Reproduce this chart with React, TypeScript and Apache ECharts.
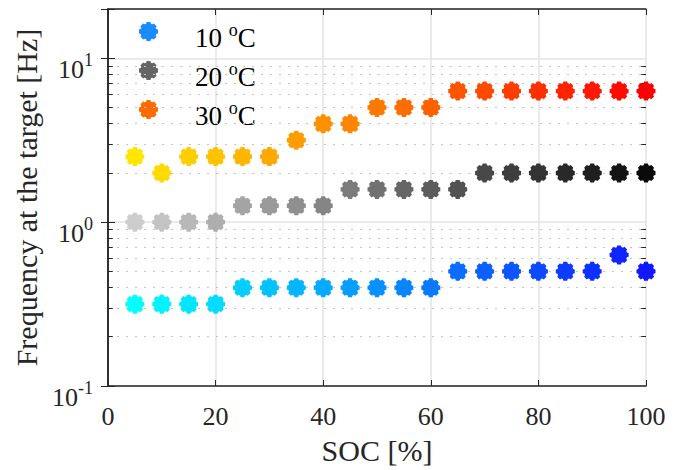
import React, { useEffect, useRef } from 'react';
import * as echarts from 'echarts';

// ---- data ----
const soc = [5, 10, 15, 20, 25, 30, 35, 40, 45, 50, 55, 60, 65, 70, 75, 80, 85, 90, 95, 100];
const freq10C = [0.316, 0.316, 0.316, 0.316, 0.398, 0.398, 0.398, 0.398, 0.398, 0.398, 0.398, 0.398, 0.501, 0.501, 0.501, 0.501, 0.501, 0.501, 0.631, 0.501];
const freq20C = [1.0, 1.0, 1.0, 1.0, 1.259, 1.259, 1.259, 1.259, 1.585, 1.585, 1.585, 1.585, 1.585, 1.995, 1.995, 1.995, 1.995, 1.995, 1.995, 1.995];
const freq30C = [2.512, 1.995, 2.512, 2.512, 2.512, 2.512, 3.162, 3.981, 3.981, 5.012, 5.012, 5.012, 6.31, 6.31, 6.31, 6.31, 6.31, 6.31, 6.31, 6.31];
const seriesNames = ['10 °C', '20 °C', '30 °C'];
const minorValues = [0.2, 0.3, 0.4, 0.5, 0.6, 0.7, 0.8, 0.9, 2, 3, 4, 5, 6, 7, 8, 9];

// ---- styles ----
const FONT = 'Liberation Serif';
const TXT = '#262626';
const legendColors = ['#1a8cff', '#666666', '#ff6a00'];
const gradStart = [[0, 255, 255], [205, 205, 205], [255, 230, 0]];
const gradEnd = [[16, 24, 255], [10, 10, 10], [255, 0, 0]];

function gradColor(s: number, i: number, n: number): string {
  const t = n > 1 ? i / (n - 1) : 0;
  const c = gradStart[s].map((v, k) => Math.round(v + (gradEnd[s][k] - v) * t));
  return `rgb(${c[0]},${c[1]},${c[2]})`;
}

function gearPath(): string {
  const pts: string[] = [];
  const p = (r: number, a: number) => `${(50 + 50 * r * Math.cos(a)).toFixed(2)} ${(50 + 50 * r * Math.sin(a)).toFixed(2)}`;
  for (let k = 0; k < 8; k++) {
    const a = (k * Math.PI) / 4;
    pts.push(p(0.84, a - 0.3), p(1, a - 0.2), p(1, a + 0.2), p(0.84, a + 0.3));
  }
  return 'path://M' + pts.join(' L') + ' Z';
}
const GEAR = gearPath();

export default function App() {
  const ref = useRef<HTMLDivElement>(null);
  useEffect(() => {
    if (!ref.current) return;
    const chart = echarts.init(ref.current, undefined, { renderer: 'svg' });
    const allSeries = [freq10C, freq20C, freq30C];

    const minorTickLines: any[] = [];
    minorValues.forEach((v) => {
      minorTickLines.push([{ coord: [0, v] }, { coord: [0.9, v] }]);
      minorTickLines.push([{ coord: [100, v] }, { coord: [99.1, v] }]);
    });

    const scatterSeries = allSeries.map((vals, s) => ({
      name: seriesNames[s],
      type: 'scatter',
      symbol: GEAR,
      symbolSize: 19,
      itemStyle: { color: legendColors[s], opacity: 1 },
      z: 5,
      data: soc.map((x, i) => ({ value: [x, vals[i]], itemStyle: { color: gradColor(s, i, soc.length), opacity: 1 } })),
    }));

    const option: any = {
      animation: false,
      backgroundColor: '#ffffff',
      textStyle: { fontFamily: FONT },
      grid: { left: 108, right: 35, top: 9, bottom: 81, containLabel: false },
      legend: {
        data: seriesNames,
        orient: 'vertical',
        left: 134,
        top: 16,
        itemWidth: 19,
        itemHeight: 19,
        itemGap: 8.5,
        icon: GEAR,
        itemStyle: { opacity: 1 },
        formatter: (name: string) => {
          const parts = name.split(' ');
          return `{n|${parts[0]} }{s|o}{n|C}`;
        },
        textStyle: {
          fontFamily: FONT,
          padding: [13, 0, 0, 32],
          rich: {
            n: { fontFamily: FONT, fontSize: 27, color: '#000' },
            s: { fontFamily: FONT, fontSize: 18, color: '#000', padding: [0, 0, 16, 0] },
          },
        },
      },
      xAxis: [
        {
          type: 'value',
          min: 0,
          max: 100,
          interval: 20,
          name: 'SOC [%]',
          nameLocation: 'middle',
          nameGap: 49,
          nameTextStyle: { fontFamily: FONT, fontSize: 30, color: TXT },
          axisLine: { show: true, lineStyle: { color: TXT, width: 1.5 } },
          axisTick: { show: true, inside: true, length: 6, lineStyle: { color: TXT, width: 1 } },
          axisLabel: { fontFamily: FONT, fontSize: 26, color: TXT, margin: 17 },
          splitLine: { show: true, lineStyle: { color: '#e3e3e3', width: 1.5 } },
        },
        {
          type: 'value',
          position: 'top',
          min: 0,
          max: 100,
          interval: 20,
          axisLine: { show: true, lineStyle: { color: TXT, width: 1.5 } },
          axisTick: { show: true, inside: true, length: 6, lineStyle: { color: TXT, width: 1 } },
          axisLabel: { show: false },
          splitLine: { show: false },
        },
      ],
      yAxis: [
        {
          type: 'log',
          logBase: 10,
          min: 0.1,
          max: 20,
          name: 'Frequency at the target [Hz]',
          nameLocation: 'middle',
          nameGap: 63,
          nameTextStyle: { fontFamily: FONT, fontSize: 30, color: TXT },
          axisLine: { show: true, lineStyle: { color: TXT, width: 1.5 } },
          axisTick: { show: true, inside: true, length: 7, lineStyle: { color: TXT, width: 1 } },
          axisLabel: {
            margin: 15,
            fontFamily: FONT,
            padding: [22, 0, 0, 0],
            formatter: (v: number) => {
              const e = Math.round(Math.log10(v));
              if (Math.abs(Math.log10(v) - e) > 1e-6) return '';
              return `{b|10}{s|${e}}`;
            },
            rich: {
              b: { fontFamily: FONT, fontSize: 26, color: TXT },
              s: { fontFamily: FONT, fontSize: 18, color: TXT, padding: [0, 0, 18, 0] },
            },
          },
          splitLine: { show: true, lineStyle: { color: '#e3e3e3', width: 1.5 } },
        },
        {
          type: 'log',
          logBase: 10,
          min: 0.1,
          max: 20,
          position: 'right',
          axisLine: { show: true, lineStyle: { color: TXT, width: 1.5 } },
          axisTick: { show: true, inside: true, length: 7, lineStyle: { color: TXT, width: 1 } },
          axisLabel: { show: false },
          splitLine: { show: false },
        },
      ],
      series: [
        {
          name: 'minor-grid',
          type: 'line',
          data: [],
          silent: true,
          markLine: {
            silent: true,
            symbol: ['none', 'none'],
            label: { show: false },
            lineStyle: { color: '#c4c4c4', type: [2, 7], width: 1.2 },
            data: minorValues.map((v) => ({ yAxis: v })),
          },
        },
        {
          name: 'minor-ticks',
          type: 'line',
          data: [],
          silent: true,
          markLine: {
            silent: true,
            symbol: ['none', 'none'],
            label: { show: false },
            lineStyle: { color: TXT, type: 'solid', width: 1 },
            data: minorTickLines,
          },
        },
        ...scatterSeries,
      ],
    };
    chart.setOption(option);
    return () => chart.dispose();
  }, []);
  return (
    <div
      ref={ref}
      style={{ position: 'fixed', left: 0, top: 0, width: 681, height: 470, background: '#fff' }}
    />
  );
}
